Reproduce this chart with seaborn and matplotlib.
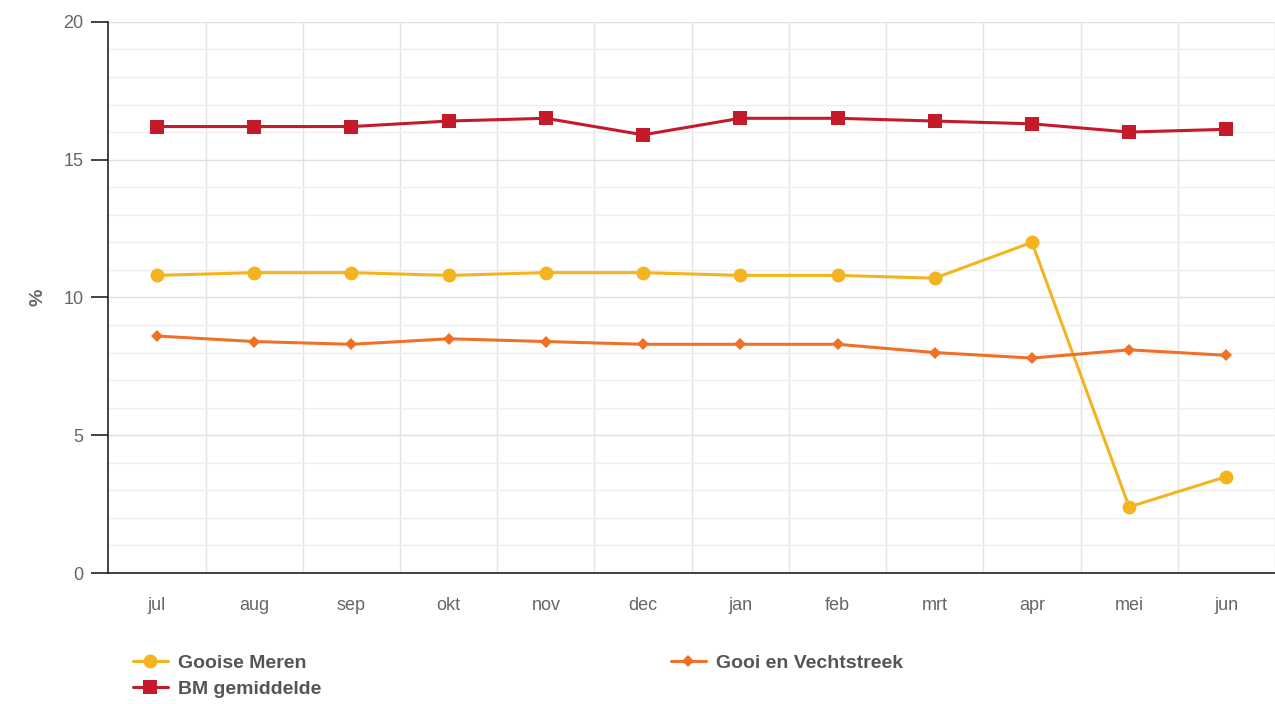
import pandas as pd
import matplotlib.pyplot as plt
import seaborn as sns
from matplotlib.ticker import MultipleLocator

# Data
months = ["jul", "aug", "sep", "okt", "nov", "dec", "jan", "feb", "mrt", "apr", "mei", "jun"]
gooise_meren = [10.8, 10.9, 10.9, 10.8, 10.9, 10.9, 10.8, 10.8, 10.7, 12.0, 2.4, 3.5]
gooi_vechtstreek = [8.6, 8.4, 8.3, 8.5, 8.4, 8.3, 8.3, 8.3, 8.0, 7.8, 8.1, 7.9]
bm_gemiddelde = [16.2, 16.2, 16.2, 16.4, 16.5, 15.9, 16.5, 16.5, 16.4, 16.3, 16.0, 16.1]

df = pd.DataFrame({
    "maand": months * 3,
    "waarde": gooise_meren + gooi_vechtstreek + bm_gemiddelde,
    "reeks": ["Gooise Meren"] * 12 + ["Gooi en Vechtstreek"] * 12 + ["BM gemiddelde"] * 12,
})

sns.set_style("white")
plt.rcParams["font.family"] = ["Liberation Sans", "DejaVu Sans"]

fig = plt.figure(figsize=(12.75, 7.04), dpi=100)
ax = fig.add_axes([0.085, 0.186, 0.915, 0.783])

styles = {
    "Gooise Meren": dict(color="#f4b420", marker="o", markersize=10, linewidth=2.2),
    "Gooi en Vechtstreek": dict(color="#f07028", marker="D", markersize=6, linewidth=2.2),
    "BM gemiddelde": dict(color="#c41a2a", marker="s", markersize=10, linewidth=2.2),
}

for name, st in styles.items():
    sub = df[df["reeks"] == name]
    sns.lineplot(data=sub, x="maand", y="waarde", ax=ax, color=st["color"],
                 marker=st["marker"], markersize=st["markersize"],
                 linewidth=st["linewidth"], markeredgewidth=0, label=name, sort=False)

ax.set_xlim(-0.5, 11.5)
ax.set_ylim(0, 20)
ax.yaxis.set_major_locator(MultipleLocator(5))
ax.yaxis.set_minor_locator(MultipleLocator(1))
ax.set_xticks(range(len(months)))
ax.set_xticks([i + 0.5 for i in range(len(months))], minor=True)
ax.set_xticklabels(months)

ax.grid(which="major", axis="y", color="#e0e0e0", linewidth=1)
ax.grid(which="minor", axis="y", color="#efefef", linewidth=1)
ax.grid(which="minor", axis="x", color="#e3e3e3", linewidth=1)
ax.set_axisbelow(True)

for s in ["top", "right"]:
    ax.spines[s].set_visible(False)
ax.spines["left"].set_color("#222222")
ax.spines["bottom"].set_color("#222222")
ax.spines["left"].set_linewidth(1.2)
ax.spines["bottom"].set_linewidth(1.2)

ax.tick_params(axis="y", which="major", length=12, width=1.2, color="#222222",
               labelsize=13, labelcolor="#666666", pad=6, left=True)
ax.tick_params(axis="y", which="minor", length=0)
ax.tick_params(axis="x", which="both", length=0, labelsize=13, labelcolor="#666666", pad=17)

ax.set_xlabel("")
ax.set_ylabel("%", fontsize=14, color="#666666", fontweight="bold", labelpad=12)

h, l = ax.get_legend_handles_labels()
order = [l.index("Gooise Meren"), l.index("BM gemiddelde"), l.index("Gooi en Vechtstreek")]
ax.legend([h[i] for i in order], [l[i] for i in order], ncol=2,
          loc="upper left", bbox_to_anchor=(0.006, -0.115), frameon=False,
          prop={"weight": "bold", "size": 14}, labelcolor="#555555",
          columnspacing=18, handlelength=1.8, handletextpad=0.5, labelspacing=0.45)

plt.savefig("out.png", dpi=100)
